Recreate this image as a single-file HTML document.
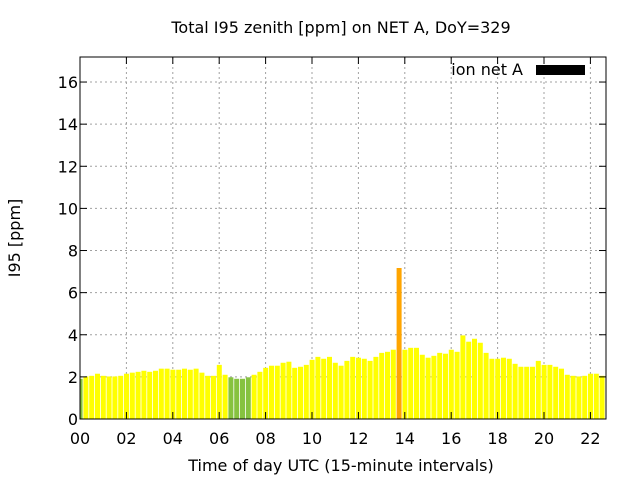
<!DOCTYPE html>
<html><head><meta charset="utf-8"><style>
body{margin:0;background:#fff}
svg{display:block;font-family:"DejaVu Sans","Liberation Sans",sans-serif}
</style></head><body>
<svg id="c" width="640" height="480">
<rect width="640" height="480" fill="#fff"/>
<g id="grid"></g><g id="bars"></g><g id="axes"></g>
<text x="341" y="33" font-size="16" text-anchor="middle">Total I95 zenith [ppm] on NET A, DoY=329</text>
<text x="341" y="471" font-size="16" text-anchor="middle">Time of day UTC (15-minute intervals)</text>
<text x="0" y="0" font-size="16" text-anchor="middle" transform="translate(20,238) rotate(-90)">I95 [ppm]</text>
<g>
<text x="523" y="75" font-size="16" text-anchor="end">ion net A</text>
<rect x="536" y="65" width="49" height="10" fill="#000"/>
</g>
</svg>
<script>
const values=[1.91,2.02,2.05,2.15,2.05,2.02,2.02,2.05,2.15,2.2,2.24,2.29,2.24,2.29,2.39,2.39,2.34,2.34,2.39,2.34,2.39,2.2,2.05,2.05,2.57,2.1,1.98,1.91,1.91,1.98,2.1,2.24,2.43,2.53,2.53,2.67,2.72,2.43,2.48,2.57,2.81,2.95,2.86,2.95,2.67,2.53,2.76,2.95,2.91,2.86,2.76,2.95,3.14,3.19,3.29,7.17,3.29,3.38,3.38,3.05,2.91,3.0,3.14,3.1,3.29,3.19,3.97,3.67,3.81,3.62,3.14,2.86,2.86,2.91,2.86,2.62,2.48,2.48,2.48,2.76,2.57,2.57,2.48,2.39,2.1,2.05,2.02,2.05,2.15,2.15,2.05];
const yTicks=[0,2,4,6,8,10,12,14,16];
const xTickLabels=["00","02","04","06","08","10","12","14","16","18","20","22"];
const NS="http://www.w3.org/2000/svg";
const L=80,R=606,T=57,B=419;
const slot=5.8;
const x=i=>L+i*slot;
const y=v=>B-v*21.06;
function mk(tag,attrs,parent){const e=document.createElementNS(NS,tag);for(const k in attrs)e.setAttribute(k,attrs[k]);document.getElementById(parent).appendChild(e);return e;}
function color(v){if(v<2.0)return "#86c240";if(v>5)return "#ffa500";return "#ffff00";}
yTicks.forEach(t=>{
 if(t>0){const g=mk('line',{x1:L,x2:R,y1:y(t),y2:y(t),stroke:'#a0a0a0','stroke-dasharray':'2,3'},'grid');
 
 }
 const tk=mk('line',{x1:L,x2:L+7,y1:y(t),y2:y(t),stroke:'#000'},'axes');
 
 
 const tk2=mk('line',{x1:R,x2:R-7,y1:y(t),y2:y(t),stroke:'#000'},'axes');
 
 
 const lb=mk('text',{x:L-2,y:y(t)+6,'font-size':16,'text-anchor':'end'},'axes');lb.textContent=t;
 
 
});
xTickLabels.forEach((s,k)=>{
 const xx=x(k*8);
 if(k>0){const g=mk('line',{x1:xx,x2:xx,y1:T,y2:B,stroke:'#a0a0a0','stroke-dasharray':'2,3'},'grid');
 
 }
 const tk=mk('line',{x1:xx,x2:xx,y1:B,y2:B-7,stroke:'#000'},'axes');
 
 
 const tk2=mk('line',{x1:xx,x2:xx,y1:T,y2:T+7,stroke:'#000'},'axes');
 
 
 const lb=mk('text',{x:xx,y:B+25,'font-size':16,'text-anchor':'middle'},'axes');lb.textContent=s;
 
 
});
values.forEach((v,i)=>{
 let x0=x(i)-2.4,x1=x(i)+2.6;
 if(x0<L)x0=L;
 const b=mk('rect',{x:x0,y:y(v),width:x1-x0,height:B-y(v),fill:color(v)},'bars');
 
 
});
const f=mk('rect',{x:L,y:T,width:R-L,height:B-T,fill:'none',stroke:'#000','stroke-width':1},'axes');


</script>
</body></html>
